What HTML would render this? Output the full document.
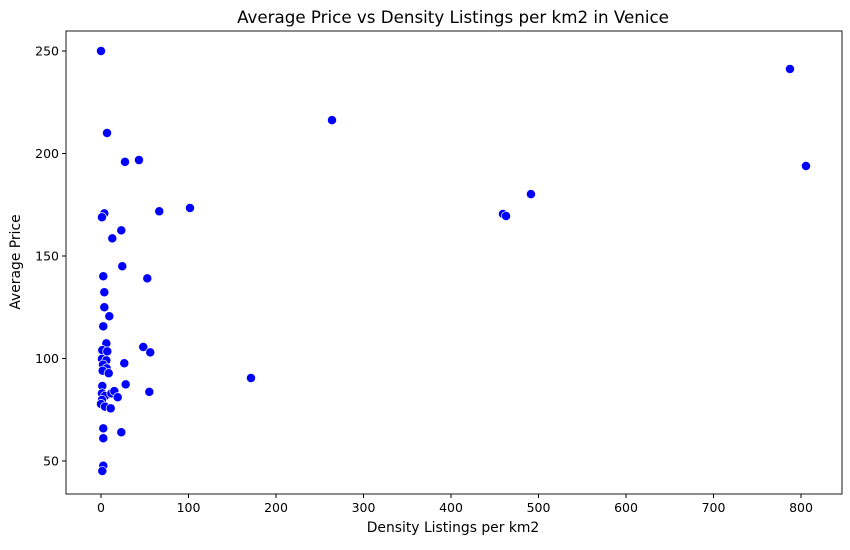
<!DOCTYPE html>
<html><head><meta charset="utf-8"><style>
body{margin:0;background:#fff;}
svg{font-family:"DejaVu Sans","Liberation Sans",sans-serif;}
</style></head><body>
<svg id="chart" width="850" height="545" xmlns="http://www.w3.org/2000/svg">
<text x="453" y="23" text-anchor="middle" font-size="16.7">Average Price vs Density Listings per km2 in Venice</text>
<rect x="66" y="31" width="776" height="463" fill="none" stroke="#000" stroke-width="0.9"/>
<g id="xticks"></g>
<g id="yticks"></g>
<text x="453" y="532" text-anchor="middle" font-size="13.9">Density Listings per km2</text>
<text transform="translate(20,262) rotate(-90)" text-anchor="middle" font-size="13.9">Average Price</text>
<g id="points"></g>
</svg>
<script>
const density=[3.8,1.1,66.6,23.2,12.9,24.3,2.6,52.9,3.8,3.8,9.5,2.6,6.1,1.5,7.2,48.3,56.3,1.1,6.1,26.6,2.3,6.5,1.9,8.8,1.5,28.2,55.2,1.1,4.6,11.8,15.2,19.1,1.1,0,4.6,11.1,2.6,23.2,2.6,2.6,1.5,0,6.9,27.4,43.4,101.7,264,171.4,459.4,462.9,491.4,787.4,805.7];
const price=[170.8,168.9,171.8,162.5,158.6,145.0,140.1,139.1,132.3,125.0,120.6,115.7,107.4,104.1,103.5,105.6,103.0,99.8,99.1,97.7,97.0,95.2,94.0,92.8,86.6,87.4,83.7,83.0,81.7,83.0,84.1,81.1,79.8,77.8,76.5,75.7,65.9,64.0,61.1,47.7,45.1,250,210,195.9,196.8,173.4,216.3,90.5,170.5,169.5,180.2,241.2,193.9];
const xTicks=[0,100,200,300,400,500,600,700,800];
const yTicks=[50,100,150,200,250];
const NS="http://www.w3.org/2000/svg";
const X=v=>101+v*0.875;
const Y=v=>51+(250-v)*2.05;
const xg=document.getElementById('xticks'),yg=document.getElementById('yticks'),pg=document.getElementById('points');
xTicks.forEach(t=>{
  const l=document.createElementNS(NS,'line');
  l.setAttribute('x1',X(t));l.setAttribute('x2',X(t));l.setAttribute('y1',494);l.setAttribute('y2',498);l.setAttribute('stroke','#000');
  
  
  xg.appendChild(l);
  const tx=document.createElementNS(NS,'text');
  tx.setAttribute('x',X(t));tx.setAttribute('y',512);tx.setAttribute('text-anchor','middle');tx.setAttribute('font-size','12.5');
  tx.textContent=t;
  
  
  xg.appendChild(tx);
});
yTicks.forEach(t=>{
  const l=document.createElementNS(NS,'line');
  l.setAttribute('x1',62);l.setAttribute('x2',66);l.setAttribute('y1',Y(t));l.setAttribute('y2',Y(t));l.setAttribute('stroke','#000');
  
  
  yg.appendChild(l);
  const tx=document.createElementNS(NS,'text');
  tx.setAttribute('x',59);tx.setAttribute('y',Y(t)+4.5);tx.setAttribute('text-anchor','end');tx.setAttribute('font-size','12.5');
  tx.textContent=t;
  
  
  yg.appendChild(tx);
});
density.forEach((d,i)=>{
  const c=document.createElementNS(NS,'circle');
  c.setAttribute('cx',X(d));c.setAttribute('cy',Y(price[i]));c.setAttribute('r',4.6);
  c.setAttribute('fill','#0000ff');c.setAttribute('stroke','#fff');c.setAttribute('stroke-width','0.7');
  
  
  pg.appendChild(c);
});
</script>
</body></html>
